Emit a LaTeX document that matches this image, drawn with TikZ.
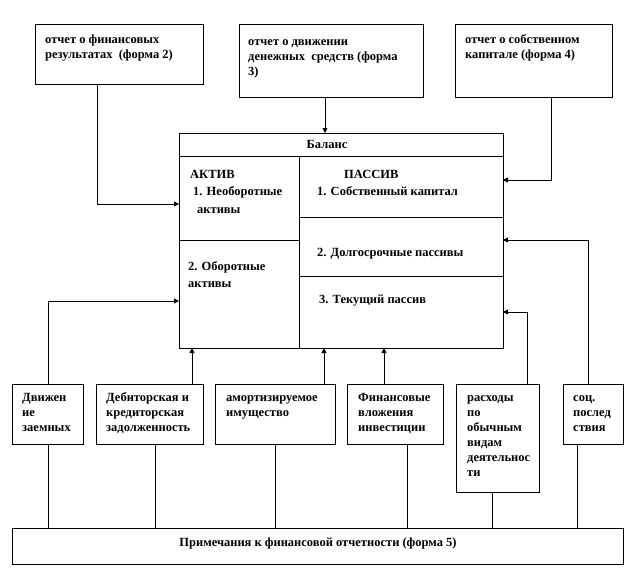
\documentclass[tikz,border=0pt]{standalone}
\usepackage{fontspec}
\setmainfont{Liberation Serif}[BoldFont=Liberation Serif Bold]
\usetikzlibrary{arrows.meta}
\newcommand\tl[1]{\begin{tabular}[t]{@{}l@{}}#1\end{tabular}}
\newcommand\mkbox[5]{\node[box, anchor=north west, minimum width={(#4-#2)*1pt}, minimum height={(#5-#3)*1pt}] (#1) at (#2,#3) {};}
\tikzset{
  box/.style={draw, line width=0.8pt, inner sep=0pt, outer sep=0pt},
  txt/.style={anchor=base west, inner sep=0pt, font=\bfseries\fontsize{12.5}{15}\selectfont},
  btxt/.style={anchor=base west, inner sep=0pt, font=\bfseries\fontsize{12.5}{17.5}\selectfont},
  arr/.style={line width=0.8pt, -{Triangle[length=5pt,width=5pt]}},
  ln/.style={line width=0.8pt}
}
\begin{document}
\begin{tikzpicture}[x=1pt,y=-1pt]
\useasboundingbox (0,0) rectangle (636,576);
% top boxes
\mkbox{b1}{35}{24}{203}{84}
\mkbox{b2}{239}{24}{423}{97}
\mkbox{b3}{455}{24}{612}{97}
% balance cells
\mkbox{hdr}{179}{133}{503}{156}
\mkbox{a1}{179}{156}{299}{240}
\mkbox{a2}{179}{240}{299}{348}
\mkbox{p1}{299}{156}{503}{217}
\mkbox{p2}{299}{217}{503}{276}
\mkbox{p3}{299}{276}{503}{348}
% bottom boxes
\mkbox{dv}{12}{384}{83}{444}
\mkbox{deb}{96}{384}{203}{444}
\mkbox{am}{215}{384}{335}{444}
\mkbox{fin}{347}{384}{443}{444}
\mkbox{ras}{456}{384}{539}{492}
\mkbox{soc}{563}{384}{623}{444}
\mkbox{note}{12}{528}{623}{564}
% texts
\node[txt] (t1) at (45,43) {\tl{отчет о финансовых\\результатах~ (форма 2)}};
\node[txt] (t2) at (248,45) {\tl{отчет о движении\\денежных~ средств (форма\\3)}};
\node[txt] (t3) at (465,43) {\tl{отчет о собственном\\капитале (форма 4)}};
\node[anchor=base, inner sep=0pt, font=\bfseries\fontsize{12.5}{15}\selectfont] (th) at (327,148) {Баланс};
\node[btxt] (ta1) at (190,178) {\tl{АКТИВ\\\hspace{3pt}1. Необоротные\\\hspace{7pt}активы}};
\node[btxt] (ta2) at (188,270) {\tl{2. Оборотные\\активы}};
\node[btxt] (tp1) at (317,178) {\tl{\hspace{27pt}ПАССИВ\\1. Собственный капитал}};
\node[txt] (tp2) at (317,256) {2. Долгосрочные пассивы};
\node[txt] (tp3) at (319,303) {3. Текущий пассив};
\node[txt] (tdv) at (22,401) {\tl{Движен\\ие\\заемных}};
\node[txt] (tdeb) at (106,401) {\tl{Дебиторская и\\кредиторская\\задолженность}};
\node[txt] (tam) at (226,401) {\tl{амортизируемое\\имущество}};
\node[txt] (tfin) at (358,401) {\tl{Финансовые\\вложения\\инвестиции}};
\node[txt] (tras) at (467,401) {\tl{расходы\\по\\обычным\\видам\\деятельнос\\ти}};
\node[txt] (tsoc) at (573,401) {\tl{соц.\\послед\\ствия}};
\node[anchor=base, inner sep=0pt, font=\bfseries\fontsize{12.5}{15}\selectfont] (tn) at (318,546) {Примечания к финансовой отчетности (форма 5)};
% connectors top
\draw[arr] ([xshift=-22pt]b1.south) |- ([yshift=-6pt]a1.west);
\coordinate (c2) at ([xshift=-6pt]b2.south);
\draw[arr] (c2) -- (c2 |- hdr.north);
\draw[arr] ([xshift=17.5pt]b3.south) |- ([yshift=6.5pt]p1.east);
% connectors bottom to balance
\draw[arr] ([xshift=0.5pt]dv.north) |- ([yshift=-7pt]a2.west);
\coordinate (cdeb) at ([xshift=42.5pt]deb.north);
\draw[arr] (cdeb) -- (cdeb |- a2.south);
\coordinate (cam) at ([xshift=49pt]am.north);
\draw[arr] (cam) -- (cam |- p3.south);
\coordinate (cfin) at ([xshift=-11pt]fin.north);
\draw[arr] (cfin) -- (cfin |- p3.south);
\draw[arr] ([xshift=29.5pt]ras.north) |- (p3.east);
\draw[arr] ([xshift=-5pt]soc.north) |- ([yshift=6.5pt]p2.east);
% connectors to note
\draw[ln] ([xshift=0.5pt]dv.south) -- ([xshift=0.5pt]dv.south |- note.north);
\coordinate (ndeb) at ([xshift=5.5pt]deb.south);
\draw[ln] (ndeb) -- (ndeb |- note.north);
\draw[ln] (am.south) -- (am.south |- note.north);
\coordinate (nfin) at ([xshift=12pt]fin.south);
\draw[ln] (nfin) -- (nfin |- note.north);
\coordinate (nras) at ([xshift=-5.5pt]ras.south);
\draw[ln] (nras) -- (nras |- note.north);
\coordinate (nsoc) at ([xshift=-16pt]soc.south);
\draw[ln] (nsoc) -- (nsoc |- note.north);
\end{tikzpicture}
\end{document}
